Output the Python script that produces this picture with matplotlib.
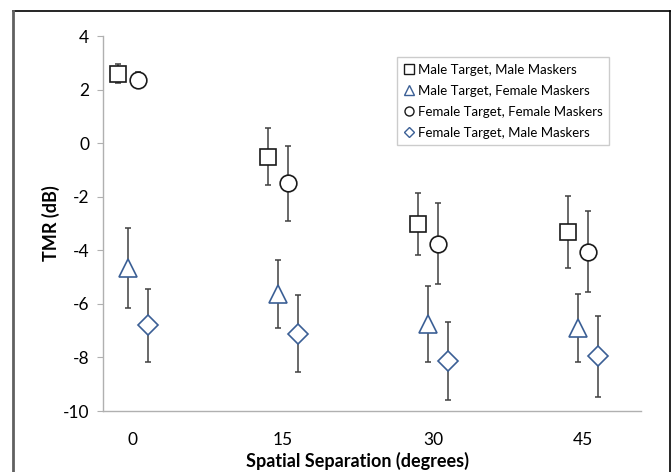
import matplotlib
matplotlib.use("Agg")
import matplotlib.pyplot as plt
from matplotlib.lines import Line2D

plt.rcParams['font.family'] = ['Lato', 'DejaVu Sans']
plt.rcParams['axes.unicode_minus'] = False

# Spatial separation conditions (degrees)
separation = [0, 15, 30, 45]

# Mean TMR (dB) and error-bar half widths for each condition
mm_mean = [2.60, -0.50, -3.02, -3.31]
mm_err = [0.35, 1.07, 1.16, 1.35]
mf_mean = [-4.65, -5.62, -6.75, -6.91]
mf_err = [1.50, 1.27, 1.42, 1.27]
ff_mean = [2.36, -1.49, -3.75, -4.05]
ff_err = [0.31, 1.40, 1.52, 1.51]
fm_mean = [-6.80, -7.11, -8.13, -7.95]
fm_err = [1.37, 1.43, 1.45, 1.51]

labels = ["Male Target, Male Maskers", "Male Target, Female Maskers",
          "Female Target, Female Maskers", "Female Target, Male Maskers"]

black = "#1a1a1a"
blue = "#3b5f95"
bar_col = "#404040"

fig = plt.figure(figsize=(6.71, 4.72), dpi=100)
ax = fig.add_axes([0.1535, 0.1292, 0.8018, 0.7945])

series = [
    (mm_mean, mm_err, 's', 11, black, -1.5),
    (mf_mean, mf_err, '^', 13, blue, -0.5),
    (ff_mean, ff_err, 'o', 12, black, 0.5),
    (fm_mean, fm_err, 'D', 10, blue, 1.5),
]
for mean, err, mk, ms, col, dx in series:
    xs = [s + dx for s in separation]
    ax.errorbar(xs, mean, yerr=err, fmt='none', ecolor=bar_col,
                elinewidth=1.1, capsize=2.5, capthick=1.1, zorder=2)
    ax.plot(xs, mean, linestyle='none', marker=mk, markersize=ms,
            markerfacecolor='white', markeredgecolor=col,
            markeredgewidth=1.2, zorder=3)

ax.set_xlim(-3, 50.8)
ax.set_ylim(-10, 4)
ax.set_xticks(separation)
ax.set_xticklabels([str(s) for s in separation])
ax.set_yticks(range(-10, 5, 2))

for side in ['top', 'right']:
    ax.spines[side].set_visible(False)
for side in ['left', 'bottom']:
    ax.spines[side].set_color('#b0b0b0')
    ax.spines[side].set_linewidth(1.0)
ax.tick_params(axis='x', length=0, pad=15, labelsize=12.5)
ax.tick_params(axis='y', length=4, color='#b0b0b0', pad=6, labelsize=12.5)

W, H = 671, 472
fig.text(357.5 / W, 1 - 461 / H, "Spatial Separation (degrees)",
         fontsize=13, fontweight='bold', ha='center', va='center')
ax.set_ylabel("TMR (dB)", fontsize=13, fontweight='bold', labelpad=2)

handles = [
    Line2D([], [], linestyle='none', marker='s', markersize=6.5,
           markerfacecolor='white', markeredgecolor=black),
    Line2D([], [], linestyle='none', marker='^', markersize=7,
           markerfacecolor='white', markeredgecolor=blue),
    Line2D([], [], linestyle='none', marker='o', markersize=6.5,
           markerfacecolor='white', markeredgecolor=black),
    Line2D([], [], linestyle='none', marker='D', markersize=5,
           markerfacecolor='white', markeredgecolor=blue),
]
leg = ax.legend(handles, labels, loc='upper left',
                bbox_to_anchor=(0.546, 0.944), borderaxespad=0,
                fontsize=9.5, frameon=True, fancybox=False,
                handlelength=0.8, handletextpad=0.3, labelspacing=0.68,
                borderpad=0.5)
leg.get_frame().set_edgecolor('#c0c0c0')
leg.get_frame().set_linewidth(1.0)

# outer frame of the figure
fig.add_artist(Line2D([13 / W, 670 / W], [1 - 11 / H, 1 - 11 / H],
                      transform=fig.transFigure, color='black', lw=1.2))
fig.add_artist(Line2D([670 / W, 670 / W], [0, 1 - 11 / H],
                      transform=fig.transFigure, color='black', lw=1.2))
fig.add_artist(Line2D([13 / W, 13 / W], [0, 1 - 11 / H],
                      transform=fig.transFigure, color='#606060', lw=2))

fig.savefig("out.png", dpi=100)
